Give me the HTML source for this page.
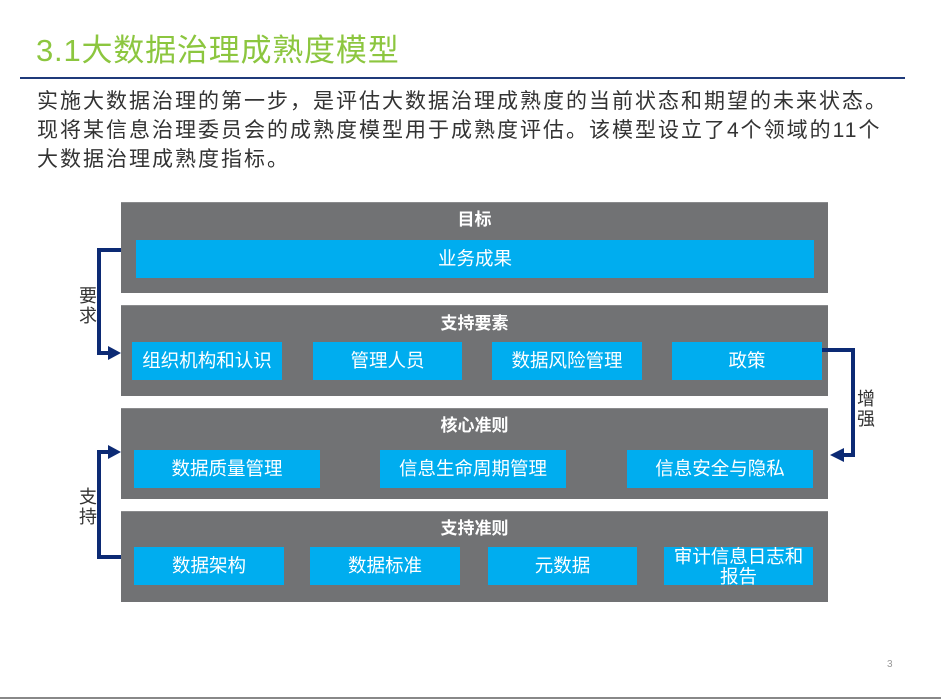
<!DOCTYPE html>
<html><head><meta charset="utf-8"><style>
*{margin:0;padding:0;box-sizing:border-box}
body{width:950px;height:700px;background:#fff;position:relative;overflow:hidden;font-family:"Liberation Sans","Noto Sans CJK SC",sans-serif}
.a{position:absolute}
.p{position:absolute;left:121px;width:707px;height:91px;background:#717274;border-top:1px solid #8a8b8d}
.t{position:absolute;left:121px;width:707px;text-align:center;color:#fff;font-size:17px;font-weight:bold;line-height:20px}
.b{position:absolute;height:38px;background:#00adef;color:#fff;font-size:18.5px;text-align:center;line-height:38px}
.lbl{position:absolute;font-size:18px;color:#333;line-height:20px;width:20px}
</style></head><body>
<div class="a" style="left:36px;top:32px;font-size:31px;color:#8cc63f;line-height:38px;letter-spacing:0.8px">3.1大数据治理成熟度模型</div>
<div class="a" style="left:20px;top:77px;width:885px;height:2px;background:#1f3a7a"></div>
<div class="a" style="left:37px;top:87px;font-size:21px;letter-spacing:2px;color:#333;line-height:29px;width:910px;white-space:nowrap">实施大数据治理的第一步，是评估大数据治理成熟度的当前状态和期望的未来状态。<br>现将某信息治理委员会的成熟度模型用于成熟度评估。该模型设立了4个领域的11个<br>大数据治理成熟度指标。</div>

<div class="p" style="top:202px"></div>
<div class="t" style="top:210px">目标</div>
<div class="b" style="left:136px;top:240px;width:678px">业务成果</div>

<div class="p" style="top:305px"></div>
<div class="t" style="top:314px">支持要素</div>
<div class="b" style="left:132px;top:342px;width:150px">组织机构和认识</div>
<div class="b" style="left:313px;top:342px;width:149px">管理人员</div>
<div class="b" style="left:492px;top:342px;width:150px">数据风险管理</div>
<div class="b" style="left:672px;top:342px;width:150px">政策</div>

<div class="p" style="top:408px"></div>
<div class="t" style="top:416px">核心准则</div>
<div class="b" style="left:134px;top:450px;width:186px">数据质量管理</div>
<div class="b" style="left:380px;top:450px;width:186px">信息生命周期管理</div>
<div class="b" style="left:627px;top:450px;width:186px">信息安全与隐私</div>

<div class="p" style="top:511px"></div>
<div class="t" style="top:519px">支持准则</div>
<div class="b" style="left:134px;top:547px;width:150px">数据架构</div>
<div class="b" style="left:310px;top:547px;width:150px">数据标准</div>
<div class="b" style="left:488px;top:547px;width:149px">元数据</div>
<div class="b" style="left:664px;top:547px;width:149px;line-height:20px;padding-top:0">审计信息日志和<br>报告</div>

<svg class="a" style="left:0;top:0" width="950" height="700">
<g fill="none" stroke="#0c2a74" stroke-width="4" stroke-linejoin="miter">
<polyline points="121,250 99,250 99,353 110,353"/>
<polyline points="121,557 99,557 99,452 110,452"/>
<polyline points="822,350 853,350 853,455 842,455"/>
</g>
<g fill="#0c2a74">
<polygon points="108,346 121,353 108,360"/>
<polygon points="108,445 121,452 108,459"/>
<polygon points="844,448 830,455 844,462"/>
</g>
</svg>
<div class="lbl" style="left:79px;top:286px">要<br>求</div>
<div class="lbl" style="left:79px;top:487px">支<br>持</div>
<div class="lbl" style="left:857px;top:389px">增<br>强</div>

<div class="a" style="left:887px;top:659px;font-size:10px;color:#999">3</div>
<div class="a" style="left:0;top:697px;width:941px;height:2px;background:#888"></div>
</body></html>
